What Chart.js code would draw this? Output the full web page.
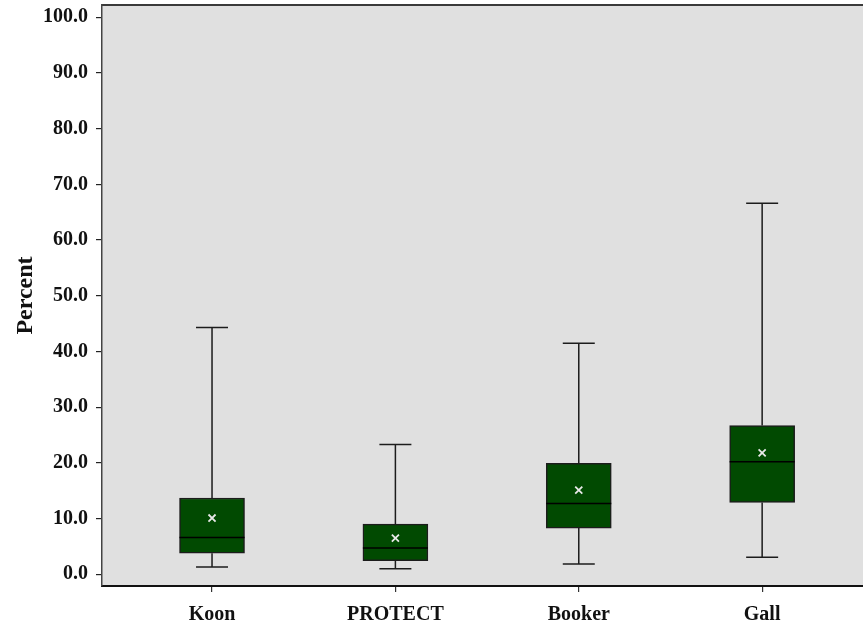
<!DOCTYPE html>
<html>
<head>
<meta charset="utf-8">
<script src="https://cdn.jsdelivr.net/npm/chart.js@4"></script>
<style>
  html, body { margin: 0; padding: 0; background: #fff; overflow: hidden; }
  canvas { display: block; }
</style>
</head>
<body>
<canvas id="boxChart" width="863" height="625"></canvas>
<script>
  const categories = ['Koon', 'PROTECT', 'Booker', 'Gall'];
  const whiskerLow = [1.3, 1.0, 1.85, 3.05];
  const q1 = [3.8, 2.45, 8.3, 12.9];
  const median = [6.6, 4.7, 12.7, 20.2];
  const q3 = [13.7, 9.0, 19.9, 26.7];
  const whiskerHigh = [44.3, 23.3, 41.5, 66.6];
  const means = [10.1, 6.5, 15.1, 21.8];
  const yTicks = [0, 10, 20, 30, 40, 50, 60, 70, 80, 90, 100];

  const boxFill = '#014a01';
  const lineColor = '#1c1c1c';

  // plot background + whiskers + medians, all through the scales
  const boxPlugin = {
    id: 'boxExtras',
    beforeDraw(chart) {
      const { ctx, chartArea } = chart;
      ctx.save();
      ctx.fillStyle = '#e0e0e0';
      ctx.fillRect(chartArea.left, chartArea.top, chartArea.right - chartArea.left, chartArea.bottom - chartArea.top);
      ctx.strokeStyle = '#3a3a3a';
      ctx.lineWidth = 2;
      ctx.beginPath();
      ctx.moveTo(chartArea.left, chartArea.top);
      ctx.lineTo(chartArea.right, chartArea.top);
      ctx.stroke();
      ctx.restore();
    },
    beforeDatasetsDraw(chart) {
      const { ctx, scales: { x, y } } = chart;
      ctx.save();
      ctx.strokeStyle = lineColor;
      ctx.lineWidth = 1.5;
      categories.forEach((c, i) => {
        const cx = x.getPixelForValue(i + 1);
        const capHalf = 16;
        ctx.beginPath();
        ctx.moveTo(cx, y.getPixelForValue(q3[i]));
        ctx.lineTo(cx, y.getPixelForValue(whiskerHigh[i]));
        ctx.moveTo(cx - capHalf, y.getPixelForValue(whiskerHigh[i]));
        ctx.lineTo(cx + capHalf, y.getPixelForValue(whiskerHigh[i]));
        ctx.moveTo(cx, y.getPixelForValue(q1[i]));
        ctx.lineTo(cx, y.getPixelForValue(whiskerLow[i]));
        ctx.moveTo(cx - capHalf, y.getPixelForValue(whiskerLow[i]));
        ctx.lineTo(cx + capHalf, y.getPixelForValue(whiskerLow[i]));
        ctx.stroke();
      });
      ctx.restore();
    },
    afterDatasetsDraw(chart) {
      const { ctx, scales: { x, y } } = chart;
      ctx.save();
      ctx.strokeStyle = '#000';
      ctx.lineWidth = 1.5;
      categories.forEach((c, i) => {
        const cx = x.getPixelForValue(i + 1);
        const my = y.getPixelForValue(median[i]);
        ctx.beginPath();
        ctx.moveTo(cx - 32.5, my);
        ctx.lineTo(cx + 32.5, my);
        ctx.stroke();
      });
      ctx.restore();
    }
  };

  const tickFont = { family: '"Liberation Serif", "Times New Roman", serif', size: 20, weight: 'bold' };

  new Chart(document.getElementById('boxChart'), {
    type: 'bar',
    data: {
      datasets: [
        {
          type: 'scatter',
          label: 'Mean',
          data: categories.map((c, i) => ({ x: i + 1, y: means[i] })),
          pointStyle: 'crossRot',
          pointRadius: 5,
          borderColor: '#e8e8e8',
          borderWidth: 1.8,
          order: 0
        },
        {
          label: 'IQR',
          data: categories.map((c, i) => ({ x: i + 1, y: [q1[i], q3[i]] })),
          backgroundColor: boxFill,
          borderColor: lineColor,
          borderWidth: 1.5,
          borderSkipped: false,
          barThickness: 65,
          order: 1
        }
      ]
    },
    options: {
      responsive: false,
      animation: false,
      layout: { autoPadding: false, padding: { top: 5, right: 0, left: 0, bottom: 0 } },
      plugins: {
        legend: { display: false },
        tooltip: { enabled: false }
      },
      scales: {
        x: {
          type: 'linear',
          offset: false,
          min: 0.4,
          max: 4.55,
          afterBuildTicks: (axis) => { axis.ticks = categories.map((c, i) => ({ value: i + 1 })); },
          afterFit: (axis) => {
            axis.height = 39;
            axis.paddingLeft = 0;
            axis.paddingRight = 0;
          },
          border: { display: true, color: '#111', width: 2 },
          grid: { offset: false, drawOnChartArea: false, drawTicks: true, tickLength: 6, color: '#333', lineWidth: 1.2 },
          ticks: {
            padding: 11,
            color: '#111',
            font: tickFont,
            maxRotation: 0,
            callback: (v) => categories[Math.round(v) - 1]
          }
        },
        y: {
          min: -2.1,
          max: 102.2,
          afterBuildTicks: (axis) => { axis.ticks = yTicks.map(v => ({ value: v })); },
          afterFit: (axis) => {
            axis.width = 102;
            axis.paddingTop = 0;
            axis.paddingBottom = 0;
          },
          border: { display: true, color: '#444', width: 1.5 },
          grid: { drawOnChartArea: false, drawTicks: true, tickLength: 6, color: '#222', lineWidth: 1.2 },
          ticks: {
            padding: 8,
            color: '#111',
            font: tickFont,
            callback: (v) => v.toFixed(1)
          },
          title: {
            display: true,
            text: 'Percent',
            color: '#111',
            font: { family: '"Liberation Serif", "Times New Roman", serif', size: 24, weight: 'bold' },
            padding: { top: 11, bottom: 0 }
          }
        }
      }
    },
    plugins: [boxPlugin]
  });
</script>
</body>
</html>
